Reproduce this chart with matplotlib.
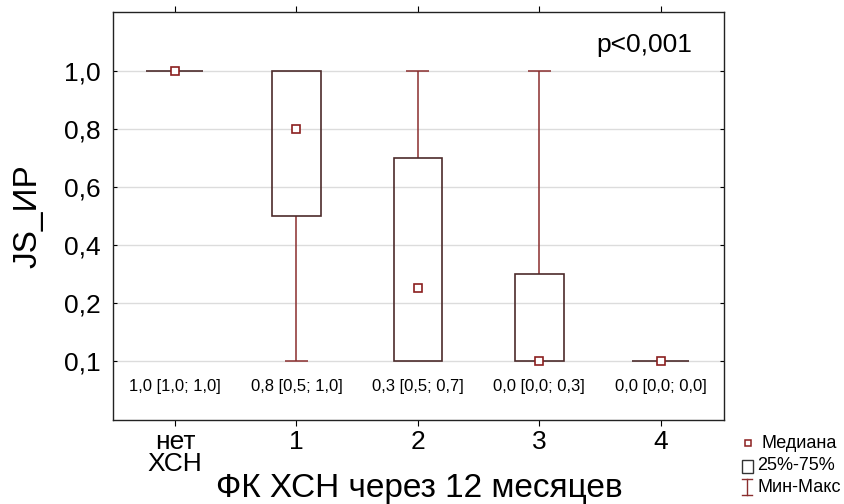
import matplotlib
matplotlib.use("Agg")
import matplotlib.pyplot as plt
from matplotlib.patches import Rectangle
from matplotlib.lines import Line2D

plt.rcParams['font.family'] = ['Liberation Sans', 'DejaVu Sans']

# Data (y in axis units: 0 is drawn with the label "0,1")
groups = ['нет\nХСН', '1', '2', '3', '4']
medians = [1.0, 0.8, 0.25, 0.0, 0.0]
q1 = [1.0, 0.5, 0.0, 0.0, 0.0]
q3 = [1.0, 1.0, 0.7, 0.3, 0.0]
mins = [1.0, 0.0, 0.0, 0.0, 0.0]
maxs = [1.0, 1.0, 1.0, 1.0, 0.0]
annotations = ['1,0 [1,0; 1,0]', '0,8 [0,5; 1,0]', '0,3 [0,5; 0,7]',
               '0,0 [0,0; 0,3]', '0,0 [0,0; 0,0]']
ytick_vals = [0.0, 0.2, 0.4, 0.6, 0.8, 1.0]
ytick_labels = ['0,1', '0,2', '0,4', '0,6', '0,8', '1,0']

box_color = '#4d2b2b'
whisk_color = '#8a2e2e'
med_color = '#8b1f1f'

fig = plt.figure(figsize=(8.45, 5.04), dpi=100)
ax = fig.add_axes([113 / 845, 1 - 420 / 504, (724 - 113) / 845, (420 - 12) / 504])

bw = 0.4
cap = 0.19
for i in range(len(groups)):
    if q1[i] == q3[i] and mins[i] == maxs[i]:
        # collapsed box, just a flat line
        ax.hlines(q1[i], i - 0.235, i + 0.235, color=box_color, lw=1.2, zorder=3)
    else:
        if maxs[i] > q3[i]:
            ax.vlines(i, q3[i], maxs[i], color=whisk_color, lw=1.1, zorder=2)
            ax.hlines(maxs[i], i - cap / 2, i + cap / 2, color=whisk_color, lw=1.1, zorder=2)
        if mins[i] < q1[i]:
            ax.vlines(i, mins[i], q1[i], color=whisk_color, lw=1.1, zorder=2)
            ax.hlines(mins[i], i - cap / 2, i + cap / 2, color=whisk_color, lw=1.1, zorder=2)
        ax.add_patch(Rectangle((i - bw / 2, q1[i]), bw, q3[i] - q1[i],
                               fill=False, ec=box_color, lw=1.2, zorder=3))
    ax.plot(i, medians[i], marker='s', ms=5.5, mfc='white', mec=med_color,
            mew=1.2, zorder=4)
    ax.text(i, -0.09, annotations[i], ha='center', va='center', fontsize=12)

ax.set_xlim(-0.51, 4.52)
ax.set_ylim(-0.204, 1.204)
ax.set_xticks(range(len(groups)))
ax.set_xticklabels(groups, fontsize=19, linespacing=0.92)
ax.set_yticks(ytick_vals)
ax.set_yticklabels(ytick_labels, fontsize=19)
ax.grid(axis='y', color='#dcdcdc', lw=1)
ax.set_axisbelow(True)
ax.tick_params(axis='x', direction='out', length=4, top=True, pad=3)
ax.tick_params(axis='y', right=True, direction='in', length=3, pad=9)
for s in ax.spines.values():
    s.set_color('#222222')
    s.set_linewidth(1)

fig.text(28 / 845, 1 - 216 / 504, 'JS_ИР', rotation=90, ha='center', va='center',
         fontsize=24)
fig.text(419 / 845, 1 - 497 / 504, 'ФК ХСН через 12 месяцев', ha='center',
         va='baseline', fontsize=24)
ax.text(4.26, 1.09, 'p<0,001', ha='right', va='center', fontsize=19)

# legend in the lower right corner
fig.add_artist(Line2D([748 / 845], [1 - 443 / 504], marker='s', ms=5, mfc='white',
                      mec=med_color, mew=1.1, transform=fig.transFigure))
fig.text(762 / 845, 1 - 443 / 504, 'Медиана', fontsize=13, va='center')
fig.add_artist(Rectangle((742 / 845, 1 - 473 / 504), 11 / 845, 13 / 504, fill=False,
                         ec='#333333', lw=1, transform=fig.transFigure))
fig.text(757 / 845, 1 - 466 / 504, '25%-75%', fontsize=13, va='center')
fig.add_artist(Line2D([747 / 845, 747 / 845], [1 - 479 / 504, 1 - 495 / 504],
                      color=whisk_color, lw=1, transform=fig.transFigure))
fig.add_artist(Line2D([742 / 845, 752 / 845], [1 - 479 / 504, 1 - 479 / 504],
                      color=whisk_color, lw=1, transform=fig.transFigure))
fig.add_artist(Line2D([742 / 845, 752 / 845], [1 - 495 / 504, 1 - 495 / 504],
                      color=whisk_color, lw=1, transform=fig.transFigure))
fig.text(758 / 845, 1 - 487 / 504, 'Мин-Макс', fontsize=13, va='center')

fig.savefig('out.png', dpi=100)
